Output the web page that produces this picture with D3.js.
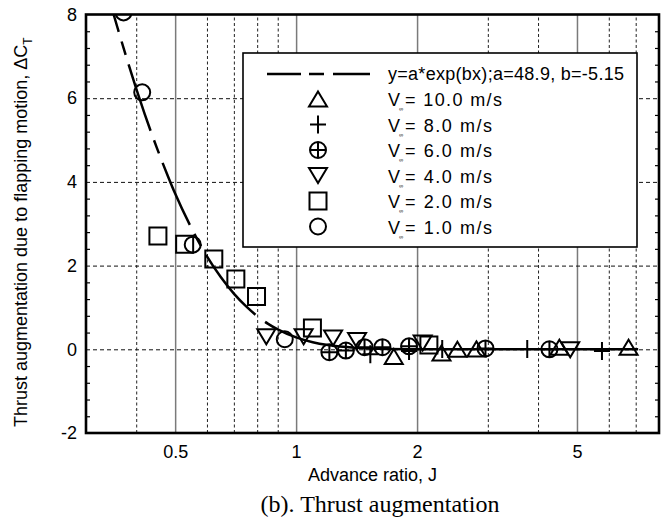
<!DOCTYPE html>
<html><head><meta charset="utf-8">
<script src="https://cdn.jsdelivr.net/npm/d3@7"></script>
<style>body{margin:0;background:#fff} svg{display:block}</style>
</head><body><svg id="c" width="664" height="526"></svg>
<script>
// ---------------- DATA ----------------
const xTickLabels = [0.5, 1, 2, 5];
const xMinorGrid = [0.4, 0.6, 0.7, 0.8, 0.9, 3, 4, 6, 7];
const yTickLabels = [-2, 0, 2, 4, 6, 8];
const fitLabel = "y=a*exp(bx);a=48.9, b=-5.15";
const speedLabels = ["10.0", "8.0", "6.0", "4.0", "2.0", "1.0"];

// fitted curve y = 48.9*exp(-5.15 J)
const fitJ = [0.3515, 0.36, 0.38, 0.40, 0.42, 0.45, 0.48, 0.50, 0.55, 0.60, 0.65, 0.70, 0.75, 0.80, 0.85, 0.90, 1.0, 1.1, 1.2, 1.4, 1.6, 2.0, 3.0, 5.0, 7.1];
const fitY = [8.00, 7.66, 6.91, 6.23, 5.62, 4.82, 4.13, 3.72, 2.88, 2.22, 1.72, 1.33, 1.03, 0.794, 0.614, 0.475, 0.284, 0.169, 0.101, 0.036, 0.013, 0.002, 0, 0, 0];

// V = 10 m/s (triangle up)
const J_v10 = [1.75, 2.30, 2.52, 2.81, 4.52, 6.72];
const dCT_v10 = [-0.17, -0.09, 0.00, 0.01, 0.05, 0.05];
// V = 8 m/s (plus)
const J_v8 = [1.53, 1.91, 2.31, 3.76, 5.77];
const dCT_v8 = [-0.12, -0.04, 0.01, 0.01, -0.04];
// V = 6 m/s (circle plus)
const J_v6 = [1.21, 1.33, 1.48, 1.64, 1.91, 2.96, 4.27];
const dCT_v6 = [-0.07, -0.03, 0.05, 0.05, 0.07, 0.02, 0.00];
// V = 4 m/s (triangle down)
const J_v4 = [0.843, 1.044, 1.236, 1.418, 2.065, 4.81];
const dCT_v4 = [0.30, 0.30, 0.27, 0.21, 0.15, -0.01];
// V = 2 m/s (square)
const J_v2 = [0.453, 0.528, 0.624, 0.708, 0.797, 1.098, 2.14];
const dCT_v2 = [2.71, 2.51, 2.16, 1.68, 1.26, 0.51, 0.10];
// V = 1 m/s (circle)
const J_v1 = [0.372, 0.414, 0.553, 0.937];
const dCT_v1 = [8.05, 6.14, 2.50, 0.24];

// ---------------- CHART ----------------
const svg = d3.select("#c");
const L = 86, R = 659, T = 14.5, B = 433;
const x = d3.scaleLog().domain([0.3, 8]).range([L, R]);
const y = d3.scaleLinear().domain([-2, 8]).range([B, T]);
const sans = "'Liberation Sans', Arial, Helvetica, sans-serif";

svg.append("defs").append("clipPath").attr("id", "clip")
  .append("rect").attr("x", L).attr("y", T).attr("width", R - L).attr("height", B - T);

// grid: major vertical (solid gray)
const gMaj = svg.append("g").attr("transform", `translate(0,${B})`)
  .call(d3.axisBottom(x).tickValues(xTickLabels).tickSize(-(B - T)).tickFormat(""));
gMaj.select(".domain").remove();
gMaj.selectAll("line").attr("stroke", "#7a7a7a").attr("stroke-width", 1.5);

// grid: minor vertical (dashed)
const gMin = svg.append("g").attr("transform", `translate(0,${B})`)
  .call(d3.axisBottom(x).tickValues(xMinorGrid).tickSize(-(B - T)).tickFormat(""));
gMin.select(".domain").remove();
gMin.selectAll("line").attr("stroke", "#222").attr("stroke-width", 1).attr("stroke-dasharray", "3,2.5");

// grid: horizontal dashed
const gH = svg.append("g").attr("transform", `translate(${L},0)`)
  .call(d3.axisLeft(y).tickValues(yTickLabels.filter(v => v > -2 && v < 8)).tickSize(-(R - L)).tickFormat(""));
gH.select(".domain").remove();
gH.selectAll("line").attr("stroke", "#111").attr("stroke-width", 1).attr("stroke-dasharray", "4,3");

// minor y ticks (inward) on left and right
const yMinor = d3.range(-2, 8.0001, 0.4).map(v => +v.toFixed(1)).filter(v => Math.abs(v / 2 - Math.round(v / 2)) > 1e-6);
const tL = svg.append("g").attr("transform", `translate(${L},0)`)
  .call(d3.axisLeft(y).tickValues(yMinor).tickSize(-4).tickFormat(""));
tL.select(".domain").remove();
tL.selectAll("line").attr("stroke", "#000").attr("stroke-width", 1.2);
const tR = svg.append("g").attr("transform", `translate(${R},0)`)
  .call(d3.axisRight(y).tickValues(yMinor).tickSize(-4).tickFormat(""));
tR.select(".domain").remove();
tR.selectAll("line").attr("stroke", "#000").attr("stroke-width", 1.2);

// tick labels
const ax = svg.append("g").attr("transform", `translate(0,${B})`)
  .call(d3.axisBottom(x).tickValues(xTickLabels).tickSize(0).tickPadding(12).tickFormat(d => String(d)));
ax.select(".domain").remove();
ax.selectAll("text").attr("font-family", sans).attr("font-size", 18).attr("fill", "#000");
const ay = svg.append("g").attr("transform", `translate(${L},0)`)
  .call(d3.axisLeft(y).tickValues(yTickLabels).tickSize(0).tickPadding(9).tickFormat(d => String(d)));
ay.select(".domain").remove();
ay.selectAll("text").attr("font-family", sans).attr("font-size", 18).attr("fill", "#000");

// plot content (clipped)
const plot = svg.append("g").attr("clip-path", "url(#clip)");

const fitData = fitJ.map((j, i) => [j, fitY[i]]);
plot.append("path").datum(fitData)
  .attr("d", d3.line().x(d => x(d[0])).y(d => y(d[1])).curve(d3.curveMonotoneX))
  .attr("fill", "none").attr("stroke", "#000").attr("stroke-width", 2.5)
  .attr("stroke-dasharray", "18,10,14,10,70,10,14,10,68,10,14,10,78,12,3000");

// marker generators
function markerPath(type) {
  const p = d3.path();
  const r = 8;
  if (type === "circle" || type === "circleplus") {
    p.moveTo(r, 0); p.arc(0, 0, r, 0, 2 * Math.PI); p.closePath();
    if (type === "circleplus") { p.moveTo(0, -r); p.lineTo(0, r); p.moveTo(-r, 0); p.lineTo(r, 0); }
  } else if (type === "square") {
    p.rect(-8.5, -8.5, 17, 17);
  } else if (type === "triup") {
    p.moveTo(0, -7.5); p.lineTo(9, 7.5); p.lineTo(-9, 7.5); p.closePath();
  } else if (type === "tridown") {
    p.moveTo(-9, -7.5); p.lineTo(9, -7.5); p.lineTo(0, 7.5); p.closePath();
  } else if (type === "plus") {
    p.moveTo(0, -9); p.lineTo(0, 9); p.moveTo(-8, 0); p.lineTo(8, 0);
  }
  return p.toString();
}

const series = [
  { J: J_v2, v: dCT_v2, type: "square" },
  { J: J_v1, v: dCT_v1, type: "circle" },
  { J: J_v4, v: dCT_v4, type: "tridown" },
  { J: J_v6, v: dCT_v6, type: "circleplus" },
  { J: J_v8, v: dCT_v8, type: "plus" },
  { J: J_v10, v: dCT_v10, type: "triup" }
];
series.forEach(s => {
  plot.append("g").selectAll("path").data(s.J.map((j, i) => [j, s.v[i]])).join("path")
    .attr("transform", d => `translate(${x(d[0])},${y(d[1])})`)
    .attr("d", markerPath(s.type))
    .attr("fill", "none").attr("stroke", "#000").attr("stroke-width", 2);
});

// frame
svg.append("rect").attr("x", L).attr("y", T).attr("width", R - L).attr("height", B - T)
  .attr("fill", "none").attr("stroke", "#000").attr("stroke-width", 2.6);

// legend
const lg = svg.append("g");
lg.append("rect").attr("x", 243).attr("y", 53).attr("width", 394).attr("height", 194)
  .attr("fill", "#fff").attr("stroke", "#000").attr("stroke-width", 1.6);
lg.append("line").attr("x1", 267).attr("x2", 370).attr("y1", 74).attr("y2", 74)
  .attr("stroke", "#000").attr("stroke-width", 2.5).attr("stroke-dasharray", "34,8,15,9,40");
lg.append("text").attr("x", 388).attr("y", 80).attr("font-family", sans).attr("font-size", 18)
  .attr("textLength", 236).attr("lengthAdjust", "spacing")
  .text(fitLabel);
const legTypes = ["triup", "plus", "circleplus", "tridown", "square", "circle"];
speedLabels.forEach((s, i) => {
  const cy = 99 + i * 25.5;
  lg.append("path").attr("transform", `translate(318,${cy})`).attr("d", markerPath(legTypes[i]))
    .attr("fill", "none").attr("stroke", "#000").attr("stroke-width", 2);
  lg.append("text").attr("x", 388).attr("y", cy + 7).attr("font-family", sans).attr("font-size", 18)
    .text("V");
  lg.append("text").attr("x", 399).attr("y", cy + 12).attr("font-family", sans).attr("font-size", 6)
    .text("∞");
  lg.append("text").attr("x", 405).attr("y", cy + 7).attr("font-family", sans).attr("font-size", 18)
    .attr("textLength", s.length > 3 ? 97 : 87).attr("lengthAdjust", "spacing")
    .text(`= ${s} m/s`);
});

// axis titles
svg.append("text").attr("x", (L + R) / 2).attr("y", 481).attr("text-anchor", "middle")
  .attr("font-family", sans).attr("font-size", 18).text("Advance ratio, J");
const yt = svg.append("text").attr("transform", "translate(27,427) rotate(-90)")
  .attr("font-family", sans).attr("font-size", 18);
yt.append("tspan").text("Thrust augmentation due to flapping motion, ΔC");
yt.append("tspan").attr("font-size", 12).attr("dy", 5).text("T");

// caption
svg.append("text").attr("x", 380).attr("y", 512).attr("text-anchor", "middle")
  .attr("font-family", "'Liberation Serif', 'Times New Roman', serif").attr("font-size", 24)
  .text("(b). Thrust augmentation");
</script></body></html>
